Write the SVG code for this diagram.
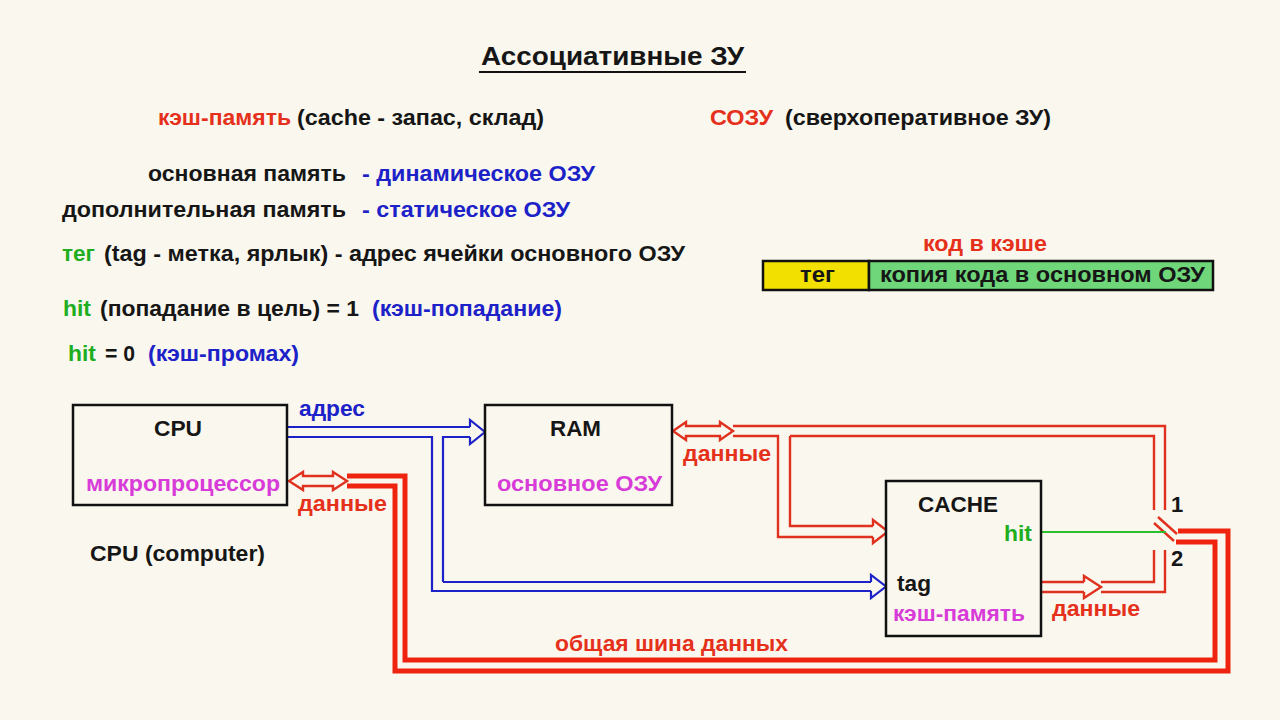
<svg xmlns="http://www.w3.org/2000/svg" width="1280" height="720" viewBox="0 0 1280 720">
<style>
text{font-family:"Liberation Sans",Arial,sans-serif;font-weight:bold;font-size:22px;fill:#161616}
.r{fill:#e5301c}.b{fill:#1c22c8}.g{fill:#1fae1f}.m{fill:#d83cd8}
.box{fill:#faf8ee;stroke:#111;stroke-width:2.5}
.bl{fill:none;stroke:#1c22c8;stroke-width:2.2}
.rl{fill:none;stroke:#e0301e;stroke-width:2.4}
.bus{fill:none;stroke:#ee2410;stroke-width:5}
</style>
<rect width="1280" height="720" fill="#faf8ee"/>
<g id="title">
<text x="481" y="65" textLength="263" lengthAdjust="spacingAndGlyphs" style="font-size:26px">Ассоциативные ЗУ</text>
<line x1="479" y1="72" x2="746" y2="72" stroke="#111" stroke-width="2"/>
</g>
<g id="notes">
<text x="158" y="125" class="r" textLength="133" lengthAdjust="spacingAndGlyphs">кэш-память</text>
<text x="297" y="125" textLength="247" lengthAdjust="spacingAndGlyphs">(cache - запас, склад)</text>
<text x="710" y="125" class="r" textLength="63" lengthAdjust="spacingAndGlyphs">СОЗУ</text>
<text x="785" y="125" textLength="266" lengthAdjust="spacingAndGlyphs">(сверхоперативное ЗУ)</text>
<text x="148" y="181" textLength="198" lengthAdjust="spacingAndGlyphs">основная память</text>
<text x="362" y="181" class="b" textLength="233" lengthAdjust="spacingAndGlyphs">- динамическое ОЗУ</text>
<text x="62" y="217" textLength="284" lengthAdjust="spacingAndGlyphs">дополнительная память</text>
<text x="362" y="217" class="b" textLength="208" lengthAdjust="spacingAndGlyphs">- статическое ОЗУ</text>
<text x="62" y="261" class="g" textLength="33" lengthAdjust="spacingAndGlyphs">тег</text>
<text x="104" y="261" textLength="581" lengthAdjust="spacingAndGlyphs">(tag - метка, ярлык) - адрес ячейки основного ОЗУ</text>
<text x="63" y="316" class="g" textLength="28" lengthAdjust="spacingAndGlyphs">hit</text>
<text x="100" y="316" textLength="259" lengthAdjust="spacingAndGlyphs">(попадание в цель) = 1</text>
<text x="372" y="316" class="b" textLength="190" lengthAdjust="spacingAndGlyphs">(кэш-попадание)</text>
<text x="68" y="361" class="g" textLength="28" lengthAdjust="spacingAndGlyphs">hit</text>
<text x="105" y="361" textLength="30" lengthAdjust="spacingAndGlyphs">= 0</text>
<text x="148" y="361" class="b" textLength="151" lengthAdjust="spacingAndGlyphs">(кэш-промах)</text>
<text x="90" y="561" textLength="175" lengthAdjust="spacingAndGlyphs">CPU (computer)</text>
</g>
<g id="cache-code">
<text x="923" y="251" class="r" textLength="124" lengthAdjust="spacingAndGlyphs">код в кэше</text>
<rect x="763" y="261" width="106" height="29" fill="#f2e000" stroke="#111" stroke-width="2.5"/>
<rect x="869" y="261" width="344" height="29" fill="#6fd67a" stroke="#111" stroke-width="2.5"/>
<text x="800" y="282" textLength="35" lengthAdjust="spacingAndGlyphs">тег</text>
<text x="880" y="282" textLength="325" lengthAdjust="spacingAndGlyphs">копия кода в основном ОЗУ</text>
</g>
<g id="connectors">
<path class="bl" d="M287,427 H470 M287,437 H432 V591 H871 M443,582 V437 H470 M443,582 H871"/>
<path class="bl" d="M470,427 V420 L485,432 L470,444 V437 M871,582 V575 L886,586.5 L871,598 V591"/>
<polygon class="rl" points="289,481 303,472 303,476 333,476 333,472 347,481 333,490 333,486 303,486 303,490"/>
<path class="bus" d="M347,476 H405 V660 H1215 V542 H1176 M347,486 H395 V671 H1228 V531 H1178"/>
<polygon class="rl" points="673,431 686,422 686,426 720,426 720,422 733,431 720,440 720,436 686,436 686,440"/>
<path class="rl" d="M733,426 H1165 V510 M733,436 H778 V537 H873 M873,526 H790 V436 M790,436 H1154 V510"/>
<path class="rl" d="M873,526 V520 L888,531.5 L873,543 V537"/>
<path class="rl" d="M1041,582 H1084 M1041,592 H1084 M1084,582 V576 L1101,587 L1084,598 V592 M1101,582 H1154 V550 M1101,592 H1165 V550"/>
<path class="rl" d="M1158,517 L1177,534 M1154,523 L1174,541"/>
<line x1="1041" y1="532" x2="1166" y2="532" stroke="#2cc02c" stroke-width="2"/>
<text x="299" y="416" class="b" textLength="66" lengthAdjust="spacingAndGlyphs">адрес</text>
<text x="298" y="511" class="r" textLength="89" lengthAdjust="spacingAndGlyphs">данные</text>
<text x="683" y="461" class="r" textLength="88" lengthAdjust="spacingAndGlyphs">данные</text>
<text x="1052" y="616" class="r" textLength="88" lengthAdjust="spacingAndGlyphs">данные</text>
<text x="555" y="651" class="r" textLength="233" lengthAdjust="spacingAndGlyphs">общая шина данных</text>
<text x="1171" y="512">1</text>
<text x="1171" y="566">2</text>
</g>
<g id="cpu">
<rect class="box" x="73" y="405" width="214" height="100"/>
<text x="154" y="436" textLength="48" lengthAdjust="spacingAndGlyphs">CPU</text>
<text x="86" y="491" class="m" textLength="194" lengthAdjust="spacingAndGlyphs">микропроцессор</text>
</g>
<g id="ram">
<rect class="box" x="485" y="405" width="187" height="100"/>
<text x="550" y="436" textLength="51" lengthAdjust="spacingAndGlyphs">RAM</text>
<text x="497" y="491" class="m" textLength="165" lengthAdjust="spacingAndGlyphs">основное ОЗУ</text>
</g>
<g id="cache">
<rect class="box" x="886" y="481" width="155" height="155"/>
<text x="918" y="512" textLength="80" lengthAdjust="spacingAndGlyphs">CACHE</text>
<text x="1004" y="541" class="g" textLength="28" lengthAdjust="spacingAndGlyphs">hit</text>
<text x="897" y="591" textLength="34" lengthAdjust="spacingAndGlyphs">tag</text>
<text x="893" y="621" class="m" textLength="132" lengthAdjust="spacingAndGlyphs">кэш-память</text>
</g>
</svg>
